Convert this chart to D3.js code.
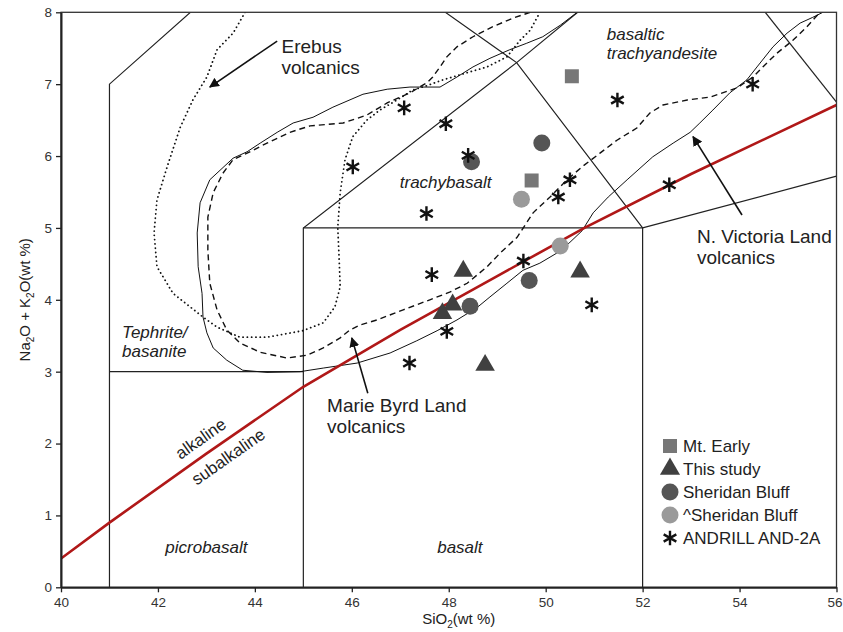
<!DOCTYPE html>
<html>
<head>
<meta charset="utf-8">
<script src="https://cdn.jsdelivr.net/npm/d3@7"></script>
<style>
  body { margin: 0; background: #fff; }
  svg { display: block; font-family: "Liberation Sans", Arial, sans-serif; }
</style>
</head>
<body>
<svg id="chart"></svg>
<script>
const width = 843;
const height = 632;

// axis ticks
const siO2Ticks = [40, 42, 44, 46, 48, 50, 52, 54, 56];
const alkaliTicks = [0, 1, 2, 3, 4, 5, 6, 7, 8];

// TAS field boundaries (SiO2, Na2O+K2O)
const fieldLines = [
  [[41, 0], [41, 7], [42.67, 8]],
  [[41, 3], [45, 3]],
  [[45, 0], [45, 5], [49.4, 7.3], [50.66, 8]],
  [[45, 5], [52, 5], [52, 0]],
  [[52, 5], [49.4, 7.3], [47.93, 8]],
  [[52, 5], [56, 5.72]],
  [[54.53, 8], [56, 6.75]]
];

// alkaline / subalkaline divide
const alkalineLine = [[40, 0.4], [41, 0.9], [43, 1.86], [45, 2.79], [47, 3.58], [49, 4.33], [50.8, 5.0], [53, 5.75], [56, 6.71]];

// volcanic province outlines
const erebus = [[43.80, 8.0], [43.55, 7.71], [43.22, 7.48], [43.01, 7.10], [42.72, 6.78], [42.46, 6.40], [42.19, 5.85],
  [41.98, 5.39], [41.92, 4.93], [41.98, 4.46], [42.31, 4.09], [42.93, 3.76], [43.22, 3.62], [43.69, 3.48], [44.25, 3.48],
  [44.99, 3.57], [45.41, 3.68], [45.65, 3.90], [45.76, 4.18], [45.74, 4.55], [45.71, 5.01], [45.76, 5.49], [45.86, 5.95],
  [46.02, 6.27], [46.31, 6.50], [46.58, 6.64], [46.93, 6.78], [47.26, 6.92], [47.51, 6.97], [47.88, 7.06], [48.38, 7.16],
  [48.79, 7.24], [49.20, 7.38], [49.47, 7.61], [49.68, 7.75], [49.88, 8.0]];

const marieByrd = [[49.68, 8.0], [49.33, 7.92], [48.91, 7.80], [48.50, 7.66], [48.17, 7.52], [47.96, 7.38], [47.82, 7.24],
  [47.67, 7.10], [47.55, 7.02], [47.20, 6.88], [46.73, 6.74], [46.31, 6.57], [45.82, 6.46], [45.14, 6.42], [44.72, 6.33],
  [44.25, 6.18], [43.84, 6.04], [43.55, 5.95], [43.34, 5.76], [43.14, 5.49], [43.03, 5.15], [43.03, 4.69], [43.07, 4.23],
  [43.22, 3.86], [43.42, 3.58], [43.69, 3.40], [44.11, 3.27], [44.66, 3.19], [45.08, 3.23], [45.41, 3.33], [45.76, 3.47],
  [45.96, 3.58], [46.17, 3.65], [46.52, 3.72], [47.06, 3.86], [47.61, 4.00], [48.03, 4.11], [48.38, 4.23], [48.79, 4.46],
  [49.06, 4.65], [49.41, 4.87], [49.74, 5.21], [50.09, 5.43], [50.44, 5.67], [50.75, 5.85], [51.12, 6.04], [51.47, 6.22],
  [51.88, 6.39], [52.15, 6.60], [52.42, 6.71], [52.92, 6.78], [53.39, 6.82], [53.95, 6.95], [54.28, 7.10], [54.48, 7.24],
  [54.77, 7.43], [55.10, 7.61], [55.39, 7.80], [55.66, 8.0]];

const victoriaLand = [[50.65, 8.0], [50.30, 7.82], [49.94, 7.66], [49.61, 7.57], [49.26, 7.48], [48.85, 7.36], [48.50, 7.24],
  [48.17, 7.10], [47.82, 6.96], [47.20, 6.96], [46.73, 6.93], [46.23, 6.86], [45.61, 6.68], [45.20, 6.54], [44.79, 6.46],
  [44.46, 6.33], [44.11, 6.18], [43.84, 6.06], [43.55, 5.97], [43.07, 5.67], [42.87, 5.35], [42.81, 4.93], [42.83, 4.46],
  [42.91, 4.09], [42.93, 3.76], [43.01, 3.54], [43.14, 3.33], [43.42, 3.16], [43.75, 3.02], [44.25, 2.99], [44.93, 3.0],
  [45.41, 3.05], [46.11, 3.12], [46.79, 3.26], [47.34, 3.43], [47.76, 3.57], [48.17, 3.72], [48.58, 3.89], [48.85, 4.04],
  [49.20, 4.23], [49.53, 4.41], [49.88, 4.51], [50.23, 4.65], [50.50, 4.80], [50.75, 4.96], [50.98, 5.21], [51.29, 5.43],
  [51.68, 5.67], [52.21, 5.99], [52.63, 6.18], [52.98, 6.33], [53.18, 6.46], [53.45, 6.64], [53.80, 6.88], [54.15, 7.06],
  [54.36, 7.24], [54.69, 7.52], [54.98, 7.71], [55.25, 7.85], [55.51, 7.93], [55.72, 8.0]];

// samples
const mtEarly = [[50.54, 7.11], [49.71, 5.66]];
const thisStudy = [[48.30, 4.40], [50.71, 4.39], [48.08, 3.93], [47.87, 3.81], [48.75, 3.09]];
const sheridanBluff = [[49.92, 6.18], [48.47, 5.92], [49.66, 4.27], [48.44, 3.91]];
const sheridanBluffAlt = [[49.50, 5.40], [50.30, 4.75]];
const andrill = [[46.02, 5.85], [47.08, 6.67], [47.94, 6.45], [48.40, 6.01], [47.54, 5.20], [50.50, 5.67], [50.26, 5.43],
  [51.48, 6.78], [54.27, 7.00], [52.55, 5.60], [47.65, 4.35], [49.54, 4.54], [50.95, 3.93], [47.96, 3.56], [47.19, 3.12]];

// labels
const fieldNames = [
  {text: ["basaltic", "trachyandesite"], at: [51.26, 7.61], anchor: "start"},
  {text: ["trachybasalt"], at: [46.99, 5.56], anchor: "start"},
  {text: ["Tephrite/", "basanite"], at: [41.26, 3.47], anchor: "start"},
  {text: ["picrobasalt"], at: [43.0, 0.48], anchor: "middle"},
  {text: ["basalt"], at: [48.23, 0.48], anchor: "middle"}
];
const provinceNotes = [
  {text: ["Erebus", "volcanics"], at: [44.55, 7.44], from: [44.46, 7.60], to: [43.07, 6.96]},
  {text: ["Marie Byrd Land", "volcanics"], at: [45.49, 2.44], from: [46.33, 2.70], to: [46.0, 3.47]},
  {text: ["N. Victoria Land", "volcanics"], at: [53.12, 4.79], from: [54.05, 5.18], to: [53.04, 6.27]}
];
const legendNames = ["Mt. Early", "This study", "Sheridan Bluff", "^Sheridan Bluff", "ANDRILL AND-2A"];

const margin = {top: 12.3, right: 6.5, bottom: 44.7, left: 61};

const x = d3.scaleLinear([40, 56], [margin.left, width - margin.right]);
const y = d3.scaleLinear([0, 8], [height - margin.bottom, margin.top]);

const svg = d3.select("#chart")
    .attr("width", width)
    .attr("height", height)
    .attr("viewBox", [0, 0, width, height]);

svg.append("defs").append("clipPath")
    .attr("id", "plot")
  .append("rect")
    .attr("x", x(40)).attr("y", y(8))
    .attr("width", x(56) - x(40)).attr("height", y(0) - y(8));

svg.select("defs").append("marker")
    .attr("id", "arrow")
    .attr("viewBox", "0 0 10 10")
    .attr("refX", 9).attr("refY", 5)
    .attr("markerWidth", 10).attr("markerHeight", 10)
    .attr("markerUnits", "userSpaceOnUse")
    .attr("orient", "auto")
  .append("path")
    .attr("d", "M0,0L10,5L0,10z")
    .attr("fill", "#111");

const line = d3.line().x(d => x(d[0])).y(d => y(d[1]));
const plot = svg.append("g").attr("clip-path", "url(#plot)");

// field boundaries
plot.append("g")
    .attr("fill", "none")
    .attr("stroke", "#222")
    .attr("stroke-width", 1.2)
  .selectAll("path")
  .data(fieldLines)
  .join("path")
    .attr("d", line);

// province outlines
const outline = (pts, dash, w) => plot.append("path")
    .attr("d", line(pts))
    .attr("fill", "none")
    .attr("stroke", "#111")
    .attr("stroke-width", w)
    .attr("stroke-linecap", dash === "dot" ? "round" : "butt")
    .attr("stroke-dasharray", dash === "dot" ? "0.1,4.2" : dash);
outline(erebus, "dot", 1.8);
outline(marieByrd, "6,4", 1.4);
outline(victoriaLand, null, 1);

plot.append("path")
    .attr("d", line(alkalineLine))
    .attr("fill", "none")
    .attr("stroke", "#b01818")
    .attr("stroke-width", 2.6);

// frame and axes
svg.append("rect")
    .attr("x", x(40)).attr("y", y(8))
    .attr("width", x(56) - x(40)).attr("height", y(0) - y(8))
    .attr("fill", "none")
    .attr("stroke", "#333")
    .attr("stroke-width", 1.3);

svg.append("g")
    .attr("transform", `translate(0,${y(0)})`)
    .call(d3.axisBottom(x).tickValues(siO2Ticks).tickSize(5).tickPadding(5).tickSizeOuter(0))
    .call(g => g.select(".domain").attr("stroke", "#222").attr("stroke-width", 2))
    .call(g => g.selectAll(".tick line").attr("stroke", "#222").attr("stroke-width", 1.3))
    .call(g => g.selectAll(".tick text").attr("font-size", 13.5).attr("fill", "#333").attr("font-family", null))
    .call(g => g.selectAll(".tick text").filter(d => d === 56).attr("dx", -2));

svg.append("g")
    .attr("transform", `translate(${x(40)},0)`)
    .call(d3.axisLeft(y).tickValues(alkaliTicks).tickSize(5).tickPadding(4).tickSizeOuter(0))
    .call(g => g.select(".domain").attr("stroke", "#222").attr("stroke-width", 2))
    .call(g => g.selectAll(".tick line").attr("stroke", "#222").attr("stroke-width", 1.3))
    .call(g => g.selectAll(".tick text").attr("font-size", 13.5).attr("fill", "#333").attr("font-family", null));

// axis titles
const xTitle = svg.append("text")
    .attr("x", (x(40) + x(56)) / 2 + 10)
    .attr("y", 624)
    .attr("text-anchor", "middle")
    .attr("font-size", 15)
    .attr("fill", "#222");
xTitle.append("tspan").text("SiO");
xTitle.append("tspan").attr("font-size", 10).attr("dy", 4).text("2");
xTitle.append("tspan").attr("dy", -4).text("(wt %)");

const yTitle = svg.append("text")
    .attr("transform", `translate(30,${(y(0) + y(8)) / 2}) rotate(-90)`)
    .attr("text-anchor", "middle")
    .attr("font-size", 15)
    .attr("fill", "#222");
yTitle.append("tspan").text("Na");
yTitle.append("tspan").attr("font-size", 10).attr("dy", 4).text("2");
yTitle.append("tspan").attr("dy", -4).text("O + K");
yTitle.append("tspan").attr("font-size", 10).attr("dy", 4).text("2");
yTitle.append("tspan").attr("dy", -4).text("O(wt %)");

// field names
svg.append("g")
    .attr("font-size", 17)
    .attr("font-style", "italic")
    .attr("fill", "#222")
  .selectAll("text")
  .data(fieldNames)
  .join("text")
    .attr("text-anchor", d => d.anchor)
    .attr("x", d => x(d.at[0]))
    .attr("y", d => y(d.at[1]))
    .each(function(d) {
      d3.select(this).selectAll("tspan")
        .data(d.text)
        .join("tspan")
          .attr("x", x(d.at[0]))
          .attr("dy", (t, i) => i ? 19 : 0)
          .text(t => t);
    });

// alkaline / subalkaline labels rotated along the divide
const angle = Math.atan2(y(2.79) - y(0.9), x(45) - x(41)) * 180 / Math.PI;
svg.append("g")
    .attr("font-size", 17)
    .attr("fill", "#222")
    .attr("text-anchor", "middle")
  .selectAll("text")
  .data([{t: "alkaline", at: [42.88, 2.07]}, {t: "subalkaline", at: [43.45, 1.82]}])
  .join("text")
    .attr("transform", d => `translate(${x(d.at[0])},${y(d.at[1])}) rotate(${angle})`)
    .attr("dy", "0.35em")
    .text(d => d.t);

// province annotations
const notes = svg.append("g");
notes.selectAll("line")
  .data(provinceNotes)
  .join("line")
    .attr("x1", d => x(d.from[0])).attr("y1", d => y(d.from[1]))
    .attr("x2", d => x(d.to[0])).attr("y2", d => y(d.to[1]))
    .attr("stroke", "#111")
    .attr("stroke-width", 1.6)
    .attr("marker-end", "url(#arrow)");
notes.selectAll("text")
  .data(provinceNotes)
  .join("text")
    .attr("font-size", 19)
    .attr("fill", "#222")
    .attr("x", d => x(d.at[0]))
    .attr("y", d => y(d.at[1]))
    .each(function(d) {
      d3.select(this).selectAll("tspan")
        .data(d.text)
        .join("tspan")
          .attr("x", x(d.at[0]))
          .attr("dy", (t, i) => i ? 21 : 0)
          .text(t => t);
    });

// sample markers
const styles = [
  {data: mtEarly, type: d3.symbolSquare, size: 196, fill: "#777"},
  {data: thisStudy, type: d3.symbolTriangle, size: 165, fill: "#404040"},
  {data: sheridanBluff, type: d3.symbolCircle, size: 227, fill: "#555"},
  {data: sheridanBluffAlt, type: d3.symbolCircle, size: 227, fill: "#9a9a9a"},
  {data: andrill, type: d3.symbolAsterisk, size: 150, stroke: "#111"}
];
const symbolPath = s => d3.symbol(s.type, s.size)();

styles.forEach(s => {
  svg.append("g")
    .selectAll("path")
    .data(s.data)
    .join("path")
      .attr("transform", d => `translate(${x(d[0])},${y(d[1])})`)
      .attr("d", symbolPath(s))
      .attr("fill", s.fill || "none")
      .attr("stroke", s.stroke || "none")
      .attr("stroke-width", s.stroke ? 2.4 : 0);
});

// legend
const legend = svg.append("g")
    .attr("transform", "translate(670,446)")
  .selectAll("g")
  .data(legendNames)
  .join("g")
    .attr("transform", (d, i) => `translate(0,${i * 23})`);
legend.append("path")
    .attr("d", (d, i) => symbolPath(i === 1 ? {...styles[i], size: 175} : styles[i]))
    .attr("fill", (d, i) => styles[i].fill || "none")
    .attr("stroke", (d, i) => styles[i].stroke || "none")
    .attr("stroke-width", (d, i) => styles[i].stroke ? 2.4 : 0);
legend.append("text")
    .attr("x", 13)
    .attr("dy", "0.35em")
    .attr("font-size", 17)
    .attr("fill", "#222")
    .text(d => d);
</script>
</body>
</html>
